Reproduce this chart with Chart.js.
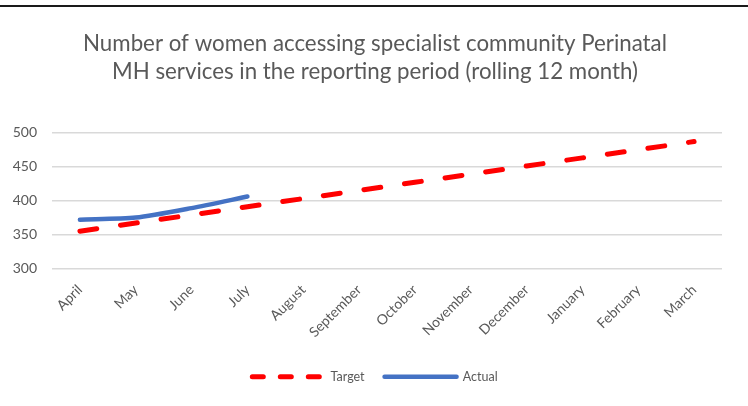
<!DOCTYPE html>
<html>
<head>
<meta charset="utf-8">
<script src="https://cdn.jsdelivr.net/npm/chart.js@4"></script>
<style>
  html, body { margin: 0; padding: 0; background: #ffffff; }
  #wrap { position: relative; width: 748px; height: 406px; }
  #topRule { position: absolute; left: 0; top: 5px; width: 748px; height: 2px; background: #1a1a1a; }
  canvas { position: absolute; left: 0; top: 0; }
</style>
</head>
<body>
<div id="wrap">
  <canvas id="chart" width="748" height="406"></canvas>
  <div id="topRule"></div>
</div>
<script>
const months = ['April', 'May', 'June', 'July', 'August', 'September', 'October',
                'November', 'December', 'January', 'February', 'March'];
const targetValues = [355, 367, 379, 391, 403, 415, 427, 439, 451, 463, 475, 487];
const actualValues = [372, 375, 389, 406, null, null, null, null, null, null, null, null];
const yTicks = [300, 350, 400, 450, 500];

const textGrey = '#595959';
const fontFamily = 'Lato, "Open Sans", sans-serif';

new Chart(document.getElementById('chart'), {
  type: 'line',
  data: {
    labels: months,
    datasets: [
      {
        label: 'Target',
        data: targetValues,
        borderColor: '#ff0000',
        backgroundColor: '#ff0000',
        borderWidth: 5,
        borderDash: [17, 24],
        borderCapStyle: 'round',
        pointRadius: 0,
        pointHoverRadius: 0,
        pointStyle: 'line',
        tension: 0
      },
      {
        label: 'Actual',
        data: actualValues,
        borderColor: '#4472c4',
        backgroundColor: '#4472c4',
        borderWidth: 4.5,
        borderCapStyle: 'round',
        pointRadius: 0,
        pointHoverRadius: 0,
        pointStyle: 'line',
        tension: 0.25,
        spanGaps: false
      }
    ]
  },
  options: {
    responsive: false,
    animation: false,
    layout: { padding: { top: 30, left: 10, right: 8, bottom: 13 } },
    plugins: {
      title: {
        display: true,
        text: ['Number of women accessing specialist community Perinatal',
               'MH services in the reporting period (rolling 12 month)'],
        color: textGrey,
        font: { family: fontFamily, size: 22.3, weight: 'normal', lineHeight: 1.25 },
        padding: { top: 0, bottom: 47 }
      },
      legend: {
        position: 'bottom',
        labels: {
          color: textGrey,
          font: { family: fontFamily, size: 12.5 },
          usePointStyle: true,
          pointStyleWidth: 72,
          padding: 20,
          generateLabels(chart) {
            const items = Chart.defaults.plugins.legend.labels.generateLabels(chart);
            items.forEach(it => {
              if (it.text === 'Target') it.lineDash = [11, 17];
              it.lineCap = 'round';
            });
            return items;
          }
        }
      },
      tooltip: { enabled: false }
    },
    scales: {
      x: {
        offset: true,
        grid: { display: false, drawTicks: false },
        border: { display: false },
        ticks: {
          color: textGrey,
          font: { family: fontFamily, size: 14 },
          minRotation: 45,
          maxRotation: 45,
          padding: 13
        },
        afterFit(scale) { scale.height = 82; }
      },
      y: {
        min: 300,
        max: 500,
        grid: { color: '#d9d9d9', lineWidth: 1.5, drawTicks: false },
        border: { display: false },
        afterBuildTicks(scale) { scale.ticks = yTicks.map(v => ({ value: v })); },
        ticks: {
          color: textGrey,
          font: { family: fontFamily, size: 14 },
          padding: 15
        },
        afterFit(scale) { scale.width = 42; }
      },
      // empty right-hand margin so the plot ends where the grid lines stop
      yRight: {
        position: 'right',
        min: 300,
        max: 500,
        grid: { display: false, drawTicks: false },
        border: { display: false },
        ticks: { display: false },
        afterFit(scale) { scale.width = 18; }
      }
    }
  }
});
</script>
</body>
</html>
